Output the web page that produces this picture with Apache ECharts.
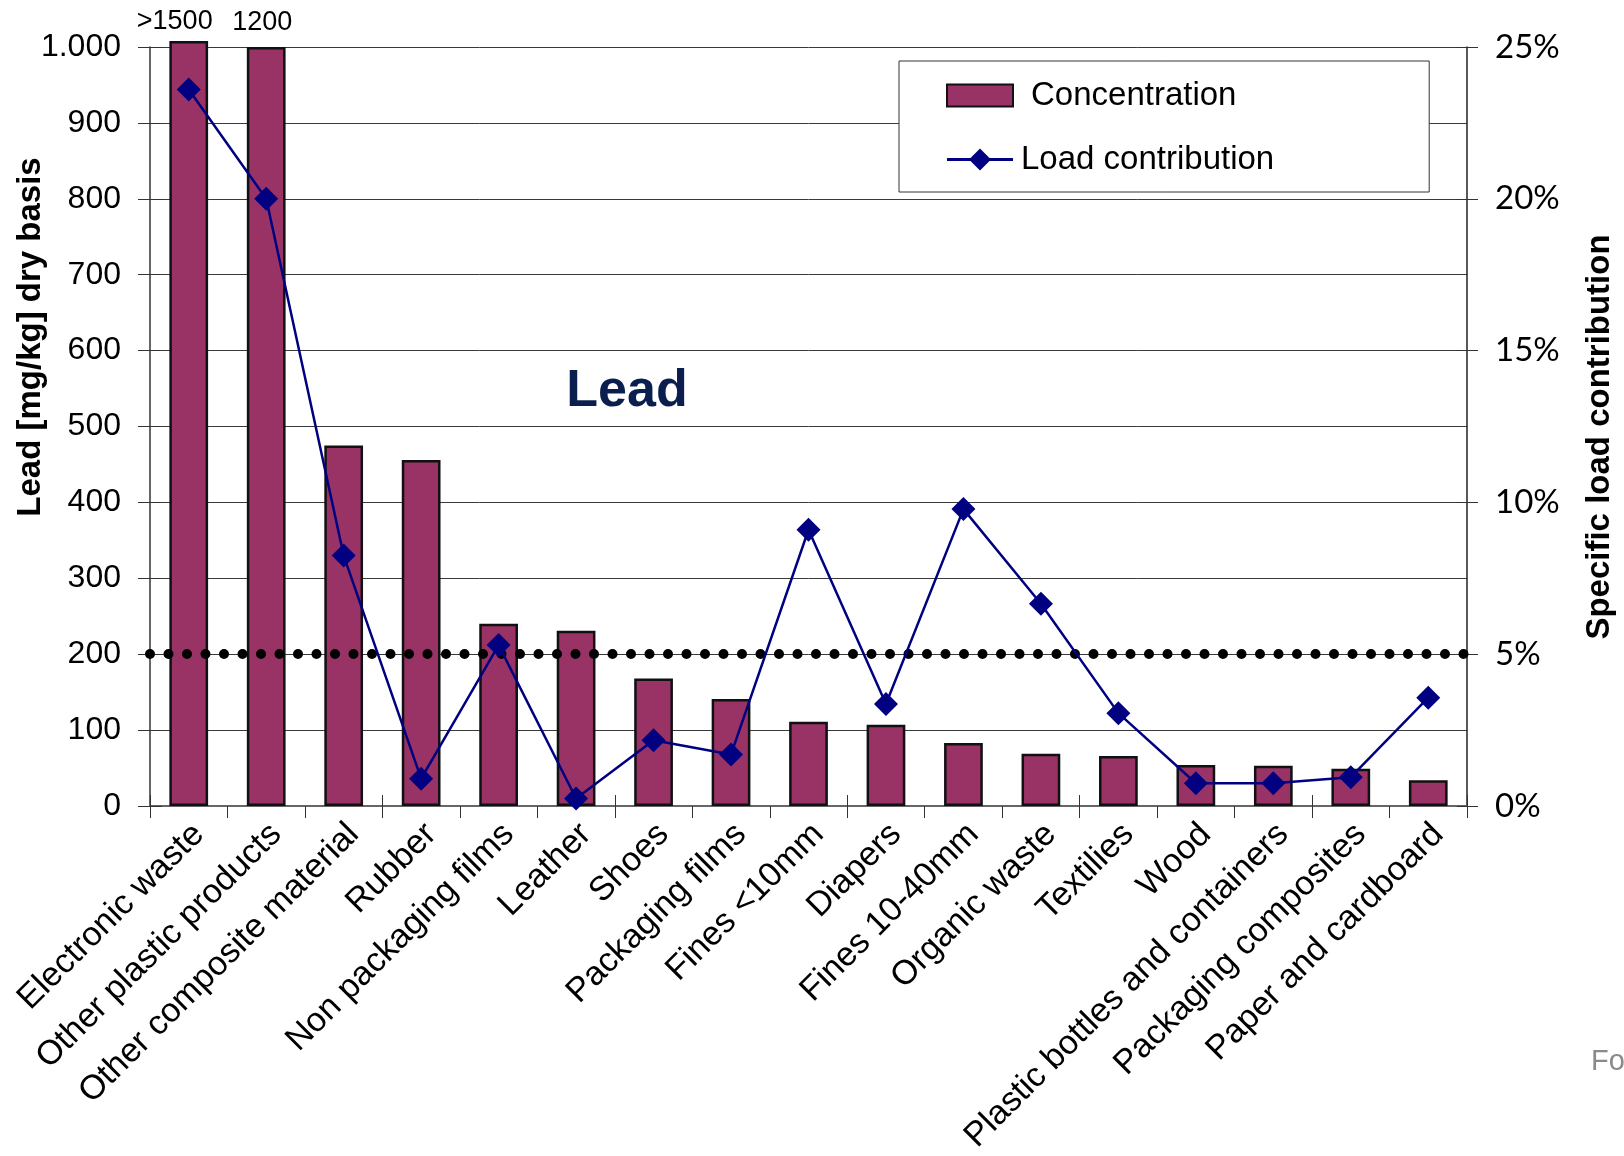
<!DOCTYPE html>
<html>
<head>
<meta charset="utf-8">
<script src="https://cdn.jsdelivr.net/npm/echarts@6/dist/echarts.min.js"></script>
<style>
html,body{margin:0;padding:0;background:#fff;}
#chart{width:1624px;height:1156px;}
</style>
</head>
<body>
<div id="chart"></div>
<script>
const categories = ['Electronic waste','Other plastic products','Other composite material','Rubber','Non packaging films','Leather','Shoes','Packaging films','Fines <10mm','Diapers','Fines 10-40mm','Organic waste','Textilies','Wood','Plastic bottles and containers','Packaging composites','Paper and cardboard'];
// bar heights as drawn (the first two bars are truncated at the axis top)
const concentration = [1008, 1000, 475, 456, 240, 231, 168, 141, 111, 107, 83, 69, 66, 54, 53, 49, 34];
const barTopLabels = ['>1500', '1200', '', '', '', '', '', '', '', '', '', '', '', '', '', '', ''];
const loadContribution = [23.6, 20.0, 8.25, 0.9, 5.3, 0.25, 2.17, 1.7, 9.1, 3.36, 9.78, 6.66, 3.06, 0.75, 0.75, 0.95, 3.57];
const thresholdConcentration = 200;
const leftTickLabels = ['0','100','200','300','400','500','600','700','800','900','1.000'];
const rightTickLabels = ['0%','5%','10%','15%','20%','25%'];

const chart = echarts.init(document.getElementById('chart'));
const FONT = '"Liberation Sans", Arial, sans-serif';

const barData = concentration.map((v, i) => {
  const item = { value: v };
  if (barTopLabels[i]) {
    item.label = {
      show: true, position: 'top', formatter: barTopLabels[i],
      distance: i === 0 ? 6 : 11, offset: i === 0 ? [-14, 0] : [-4, 0],
      fontFamily: FONT, fontSize: 27, color: '#000'
    };
  }
  return item;
});

const option = {
  animation: false,
  backgroundColor: '#fff',
  grid: { left: 150, right: 157, top: 47, bottom: 347, containLabel: false },
  legend: {
    left: 899, top: 61,
    orient: 'vertical',
    backgroundColor: '#fff',
    borderColor: '#333', borderWidth: 1,
    padding: [18, 155, 16, 47],
    itemGap: 31,
    itemWidth: 66, itemHeight: 22,
    textStyle: { fontFamily: FONT, fontSize: 33, color: '#000', lineHeight: 33 },
    data: [
      { name: 'Concentration', icon: 'rect', textStyle: { padding: [0, 0, 0, 13] } },
      { name: 'Load contribution', icon: 'path://M0,9.6H66V12.4H0Z M33,0L44,11L33,22L22,11Z', textStyle: { padding: [0, 0, 0, 3] } }
    ]
  },
  xAxis: [
    {
      type: 'category', data: categories, position: 'bottom',
      axisLine: { lineStyle: { color: '#666', width: 2 } },
      axisTick: { show: true, length: 12, lineStyle: { color: '#333', width: 1 } },
      axisLabel: {
        interval: 0, rotate: 45, margin: 33, padding: [0, -14, 0, 0],
        fontFamily: FONT, fontSize: 34, color: '#000'
      },
      splitLine: { show: false }
    },
    {
      type: 'category', data: categories, position: 'bottom',
      axisLine: { show: false },
      axisTick: { show: true, inside: true, length: 11, lineStyle: { color: '#333', width: 1 } },
      axisLabel: { show: false },
      splitLine: { show: false }
    }
  ],
  yAxis: [
    {
      type: 'value', min: 0, max: 1000, interval: 100, position: 'left',
      axisLine: { show: true, lineStyle: { color: '#333', width: 1.5 } },
      axisTick: { show: true, length: 12, lineStyle: { color: '#333' } },
      axisLabel: {
        margin: 29, fontFamily: FONT, fontSize: 32, color: '#000',
        formatter: v => leftTickLabels[Math.round(v / 100)]
      },
      splitLine: { show: true, lineStyle: { color: '#3a3a3a', width: 1 } }
    },
    {
      type: 'value', min: 0, max: 25, interval: 5, position: 'right',
      axisLine: { show: true, lineStyle: { color: '#222', width: 1.5 } },
      axisTick: { show: true, length: 11, lineStyle: { color: '#333' } },
      axisLabel: {
        margin: 28, fontFamily: 'Lato, sans-serif', fontSize: 33, color: '#000',
        formatter: v => rightTickLabels[Math.round(v / 5)]
      },
      splitLine: { show: false }
    },
    {
      type: 'value', min: 0, max: 1000, interval: 100, position: 'left',
      axisLine: { show: false },
      axisTick: { show: true, inside: true, length: 12, lineStyle: { color: '#333' } },
      axisLabel: { show: false }, splitLine: { show: false }
    },
    {
      type: 'value', min: 0, max: 25, interval: 5, position: 'right',
      axisLine: { show: false },
      axisTick: { show: true, inside: true, length: 10, lineStyle: { color: '#333' } },
      axisLabel: { show: false }, splitLine: { show: false }
    }
  ],
  series: [
    {
      name: 'Concentration', type: 'bar', xAxisIndex: 0, yAxisIndex: 0,
      data: barData,
      barCategoryGap: '50%',
      clip: false,
      itemStyle: { color: '#993366', borderColor: '#111', borderWidth: 2.5 },
      markLine: {
        silent: true, symbol: 'none', animation: false,
        label: { show: false },
        lineStyle: { color: '#000', width: 10, type: [0, 18.5], cap: 'round' },
        data: [{ yAxis: thresholdConcentration }]
      },
      z: 2
    },
    {
      name: 'Load contribution', type: 'line', xAxisIndex: 0, yAxisIndex: 1,
      data: loadContribution,
      symbol: 'diamond', symbolSize: 24,
      lineStyle: { color: '#000080', width: 2.5 },
      itemStyle: { color: '#000080' },
      z: 5
    }
  ],
  graphic: [
    {
      type: 'text', x: 627, y: 392,
      style: { text: 'Lead', fontFamily: FONT, fontWeight: 'bold', fontSize: 52, fill: '#0b1f4f', align: 'center', verticalAlign: 'middle' }
    },
    {
      type: 'text', x: 31, y: 337, rotation: Math.PI / 2,
      style: { text: 'Lead [mg/kg] dry basis', fontFamily: FONT, fontWeight: 'bold', fontSize: 33, fill: '#000', align: 'center', verticalAlign: 'middle' }
    },
    {
      type: 'text', x: 1600, y: 437, rotation: Math.PI / 2,
      style: { text: 'Specific load contribution', fontFamily: FONT, fontWeight: 'bold', fontSize: 33, fill: '#000', align: 'center', verticalAlign: 'middle' }
    },
    {
      type: 'text', x: 1591, y: 1062,
      style: { text: 'Fo', fontFamily: FONT, fontSize: 29, fill: '#8a8a8a', align: 'left', verticalAlign: 'middle' }
    }
  ]
};
chart.setOption(option);
</script>
</body>
</html>
